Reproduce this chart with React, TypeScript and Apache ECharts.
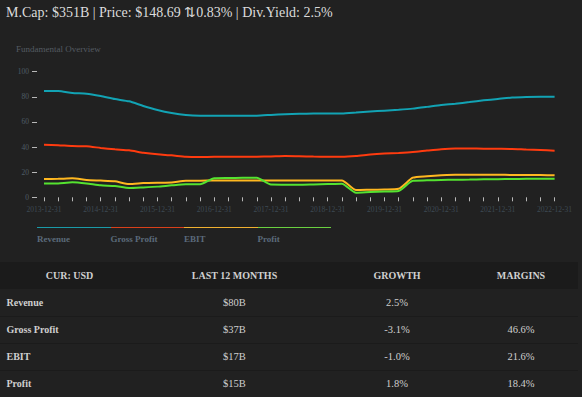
import React, { useEffect, useRef } from "react";
import * as echarts from "echarts";

const categories = [
  "2013-12-31", "2014-03-31", "2014-06-30", "2014-09-30",
  "2014-12-31", "2015-03-31", "2015-06-30", "2015-09-30",
  "2015-12-31", "2016-03-31", "2016-06-30", "2016-09-30",
  "2016-12-31", "2017-03-31", "2017-06-30", "2017-09-30",
  "2017-12-31", "2018-03-31", "2018-06-30", "2018-09-30",
  "2018-12-31", "2019-03-31", "2019-06-30", "2019-09-30",
  "2019-12-31", "2020-03-31", "2020-06-30", "2020-09-30",
  "2020-12-31", "2021-03-31", "2021-06-30", "2021-09-30",
  "2021-12-31", "2022-03-31", "2022-06-30", "2022-09-30",
  "2022-12-31",
];

const revenue = [84.6, 84.6, 83.0, 82.5, 80.6, 78.2, 76.4, 72.7, 69.5, 67.1, 65.5, 65.0, 65.0, 65.0, 65.0, 65.0, 65.6, 66.2, 66.5, 66.7, 66.8, 66.8, 67.5, 68.3, 69.0, 69.7, 70.6, 72.0, 73.5, 74.5, 75.8, 77.2, 78.3, 79.4, 79.9, 80.1, 80.0];
const grossProfit = [41.9, 41.5, 40.8, 40.6, 39.3, 38.2, 37.4, 35.5, 34.2, 33.4, 32.3, 32.1, 32.2, 32.2, 32.2, 32.3, 32.5, 32.8, 32.6, 32.4, 32.3, 32.2, 32.8, 34.0, 34.8, 35.3, 36.0, 37.2, 38.3, 38.8, 38.8, 38.7, 38.6, 38.5, 38.0, 37.6, 37.1];
const ebit = [14.6, 14.7, 15.1, 13.8, 13.3, 12.7, 10.6, 11.3, 11.6, 11.8, 13.2, 13.2, 13.4, 13.4, 13.4, 13.4, 13.4, 13.4, 13.4, 13.4, 13.4, 13.4, 5.8, 6.0, 6.2, 6.8, 15.6, 16.8, 17.6, 17.9, 18.0, 18.0, 18.0, 17.8, 17.8, 17.7, 17.5];
const profit = [10.9, 11.0, 11.9, 11.0, 9.5, 9.0, 7.4, 7.9, 8.5, 9.5, 10.3, 10.3, 15.2, 15.4, 15.5, 15.6, 10.1, 10.0, 9.9, 10.2, 10.5, 10.8, 3.7, 4.2, 4.6, 5.0, 13.2, 13.5, 13.8, 14.0, 14.1, 14.3, 14.4, 14.6, 14.7, 14.8, 14.8];

const seriesNames = ["Revenue", "Gross Profit", "EBIT", "Profit"];
const seriesColors = ["#12a3b4", "#ff3b0f", "#ffb820", "#55e330"];
const legendColors = ["#1a9aa8", "#d9401a", "#f0b030", "#6ad040"];

const headerText = "M.Cap: $351B | Price: $148.69 \u21C50.83% | Div.Yield: 2.5%";
const tableHeaders = ["CUR: USD", "LAST 12 MONTHS", "GROWTH", "MARGINS"];
const rowNames = ["Revenue", "Gross Profit", "EBIT", "Profit"];
const last12 = ["$80B", "$37B", "$17B", "$15B"];
const growth = ["2.5%", "-3.1%", "-1.0%", "1.8%"];
const margins = ["", "46.6%", "21.6%", "18.4%"];

const SERIF = "'Liberation Serif', 'Times New Roman', serif";
const BG = "#212121";

function Chart() {
  const ref = useRef<HTMLDivElement>(null);
  useEffect(() => {
    if (!ref.current) return;
    const chart = echarts.init(ref.current, undefined, { renderer: "svg" });
    const data = [revenue, grossProfit, ebit, profit];
    chart.setOption({
      animation: false,
      backgroundColor: "transparent",
      title: {
        text: "Fundamental Overview",
        left: 11,
        top: 11,
        textStyle: { fontFamily: SERIF, fontSize: 9, fontWeight: "normal", color: "#545b62" },
      },
      grid: { left: 44, top: 43.7, width: 510.6, height: 125.6 },
      xAxis: {
        type: "category",
        data: categories,
        boundaryGap: false,
        axisLine: { show: false },
        axisTick: { show: true, interval: 0, length: 4, lineStyle: { color: "#b8b8b8", width: 1 } },
        axisLabel: {
          interval: 3,
          fontFamily: SERIF,
          fontSize: 7.5,
          color: "#3e4a54",
          margin: 8,
        },
        splitLine: { show: false },
      },
      yAxis: {
        type: "value",
        min: 0,
        max: 100,
        interval: 20,
        offset: 7,
        axisLine: { show: false },
        axisTick: { show: true, length: 5, lineStyle: { color: "#b8b8b8", width: 1 } },
        axisLabel: { fontFamily: SERIF, fontSize: 7.5, color: "#4f5d66", margin: 8 },
        splitLine: { show: false },
      },
      series: data.map((d, i) => ({
        name: seriesNames[i],
        type: "line",
        data: d,
        smooth: 0.2,
        symbol: "none",
        lineStyle: { color: seriesColors[i], width: 2 },
        itemStyle: { color: seriesColors[i] },
      })),
    });
    return () => chart.dispose();
  }, []);
  return <div ref={ref} style={{ position: "absolute", left: 0, top: 28, width: 582, height: 232 }} />;
}

export default function App() {
  const colW = [139, 191, 134, 114];
  return (
    <div
      style={{
        position: "fixed",
        left: 0,
        top: 0,
        width: 582,
        height: 397,
        background: BG,
        overflow: "hidden",
        fontFamily: SERIF,
      }}
    >
      <div
        style={{
          position: "absolute",
          left: 6,
          top: 4,
          fontSize: 14,
          color: "#dcdcdc",
          whiteSpace: "nowrap",
          lineHeight: "18px",
        }}
      >
        {headerText}
      </div>
      <Chart />
      <div style={{ position: "absolute", left: 37, top: 226.5, display: "flex" }}>
        {seriesNames.map((n, i) => (
          <div key={n} style={{ width: 73.5, borderTop: `1.5px solid ${legendColors[i]}` }}>
            <div
              style={{
                fontSize: 9,
                fontWeight: "bold",
                color: "#5b6a7a",
                marginTop: 6,
                lineHeight: "11px",
                whiteSpace: "nowrap",
              }}
            >
              {n}
            </div>
          </div>
        ))}
      </div>
      <table
        style={{
          position: "absolute",
          left: 0,
          top: 262,
          width: 578,
          borderCollapse: "collapse",
          tableLayout: "fixed",
          color: "#cfcfcf",
        }}
      >
        <colgroup>
          {colW.map((w, i) => (
            <col key={i} style={{ width: w }} />
          ))}
        </colgroup>
        <thead>
          <tr style={{ background: "#1b1b1b", height: 27 }}>
            {tableHeaders.map((h) => (
              <th key={h} style={{ fontSize: 10, fontWeight: "bold", textAlign: "center", padding: 0, color: "#d0d0d0" }}>
                {h}
              </th>
            ))}
          </tr>
        </thead>
        <tbody>
          {rowNames.map((r, i) => (
            <tr key={r} style={{ height: 27, borderTop: i === 0 ? "none" : "1px solid #1b1b1b" }}>
              <td style={{ fontSize: 10, fontWeight: "bold", textAlign: "left", paddingLeft: 6.5, paddingTop: 0, paddingBottom: 0 }}>{r}</td>
              <td style={{ fontSize: 10.5, textAlign: "center", padding: 0 }}>{last12[i]}</td>
              <td style={{ fontSize: 10.5, textAlign: "center", padding: 0 }}>{growth[i]}</td>
              <td style={{ fontSize: 10.5, textAlign: "center", padding: 0 }}>{margins[i]}</td>
            </tr>
          ))}
        </tbody>
      </table>
    </div>
  );
}
